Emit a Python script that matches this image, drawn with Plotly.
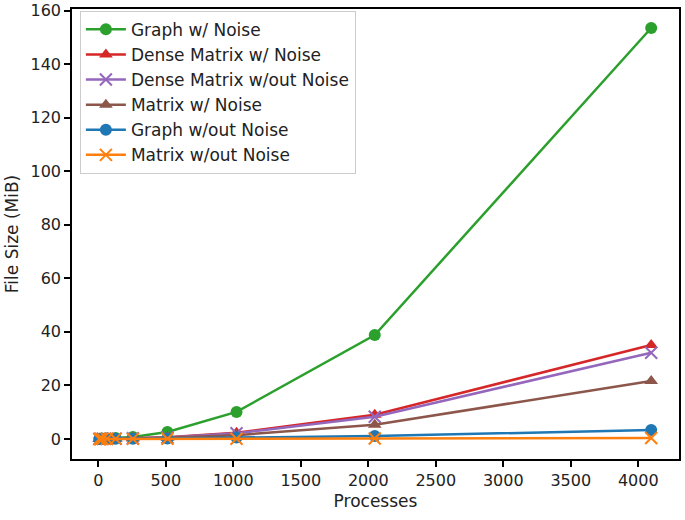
import plotly.graph_objects as go

processes = [8, 16, 32, 64, 128, 256, 512, 1024, 2048, 4096]

graph_noise = [0.02, 0.05, 0.1, 0.15, 0.3, 0.7, 2.6, 10.1, 38.8, 153.5]
dense_noise = [0.01, 0.02, 0.04, 0.07, 0.13, 0.3, 0.6, 2.3, 9.0, 35.1]
dense_no_noise = [0.01, 0.02, 0.04, 0.07, 0.12, 0.28, 0.55, 2.1, 8.3, 32.2]
matrix_noise = [0.01, 0.02, 0.03, 0.05, 0.09, 0.18, 0.4, 1.4, 5.3, 21.6]
graph_no_noise = [0.01, 0.01, 0.02, 0.03, 0.05, 0.1, 0.2, 0.5, 1.1, 3.3]
matrix_no_noise = [0.0, 0.0, 0.01, 0.01, 0.01, 0.02, 0.04, 0.08, 0.15, 0.35]

series = [
    ("Graph w/ Noise", graph_noise, "#2ca02c", "circle"),
    ("Dense Matrix w/ Noise", dense_noise, "#d62728", "triangle-up"),
    ("Dense Matrix w/out Noise", dense_no_noise, "#9467bd", "x-thin"),
    ("Matrix w/ Noise", matrix_noise, "#8c564b", "triangle-up"),
    ("Graph w/out Noise", graph_no_noise, "#1f77b4", "circle"),
    ("Matrix w/out Noise", matrix_no_noise, "#ff7f0e", "x-thin"),
]

fig = go.Figure()
for name, vals, color, sym in series:
    marker = dict(symbol=sym, size=12, color=color)
    if sym == "x-thin":
        marker["line"] = dict(color=color, width=2)
    fig.add_trace(go.Scatter(x=processes, y=vals, name=name, mode="lines+markers",
                             line=dict(color=color, width=2.5), marker=marker))

axis_common = dict(showgrid=False, zeroline=False, showline=True, linecolor="black",
                   linewidth=1.5, mirror=True, ticks="outside", ticklen=6, tickwidth=1.5,
                   automargin=False,
                   tickcolor="black", tickfont=dict(family="DejaVu Sans", size=16, color="#222222"))

fig.update_layout(
    width=685, height=520,
    margin=dict(l=72, r=6, t=9, b=61),
    plot_bgcolor="white", paper_bgcolor="white",
    font=dict(family="DejaVu Sans", color="#222222"),
    xaxis=dict(range=[-195, 4302], tickvals=[0, 500, 1000, 1500, 2000, 2500, 3000, 3500, 4000],
               title=dict(text="Processes", font=dict(size=17), standoff=6), **axis_common),
    yaxis=dict(range=[-7.5, 160.6], tickvals=[0, 20, 40, 60, 80, 100, 120, 140, 160],
               title=dict(text="File Size (MiB)", font=dict(size=17), standoff=8), **axis_common),
    legend=dict(x=0.013, y=0.996, xanchor="left", yanchor="top", bgcolor="rgba(255,255,255,0.8)",
                bordercolor="#cccccc", borderwidth=1, font=dict(size=17), tracegroupgap=0,
                itemwidth=40),
    showlegend=True,
)

fig.write_html("out.html")
